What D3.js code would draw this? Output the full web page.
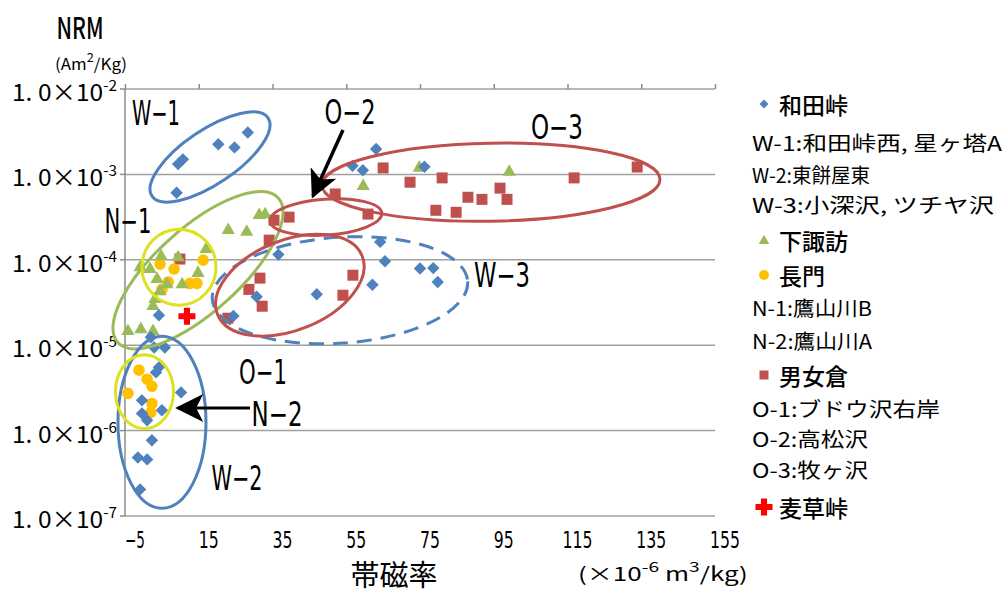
<!DOCTYPE html>
<html>
<head>
<meta charset="utf-8">
<script src="https://cdn.jsdelivr.net/npm/d3@7"></script>
<style>
  body { margin: 0; background: #fff; }
  svg text { font-family: "Noto Sans CJK JP", "Noto Sans", sans-serif; fill: #000; }
  svg text.latin { font-family: "DejaVu Sans", sans-serif; }
</style>
</head>
<body>
<svg id="chart" width="1008" height="595"></svg>
<script>
// 帯磁率 (×10^-6 m3/kg) versus NRM (Am2/kg), one array per source area: [susceptibility, NRM]
const wadaToge = [
  [28.3, 3.1e-3], [20.3, 2.25e-3], [24.7, 2.07e-3], [10.7, 1.5e-3], [9.4, 1.32e-3], [9.0, 6.1e-4],
  [4.2, 2.24e-5],
  [2.0, 1.24e-5], [2.9, 9.4e-6], [5.8, 9.4e-6], [4.2, 5.5e-6], [3.4, 4.8e-6], [10.2, 2.8e-6],
  [-0.4, 2.26e-6], [5.0, 1.73e-6], [-0.4, 1.59e-6], [1.0, 1.32e-6], [2.3, 7.7e-7], [-1.5, 4.85e-7],
  [1.0, 4.6e-7], [-0.9, 2.05e-7],
  [64.2, 1.62e-4], [36.6, 1.15e-4], [65.5, 9.6e-5], [75.0, 7.9e-5], [78.6, 8.0e-5], [79.8, 5.5e-5],
  [62.1, 5.1e-5], [47.0, 3.95e-5], [30.7, 3.7e-5], [24.4, 2.2e-5],
  [63.1, 1.98e-3], [56.7, 1.26e-3], [59.5, 1.12e-3], [76.2, 1.23e-3]
];
const shimosuwa = [
  [31.4, 3.43e-4], [33.0, 3.5e-4], [23.0, 2.29e-4], [28.0, 2.18e-4], [17.0, 1.37e-4],
  [59.6, 7.5e-4], [74.8, 1.23e-3], [99.2, 1.10e-3],
  [4.8, 1.13e-4], [9.4, 1.10e-4], [-0.9, 8.4e-5], [1.8, 8.0e-5], [3.7, 6.1e-5], [6.4, 5.3e-5],
  [10.5, 5.3e-5], [14.8, 7.2e-5], [4.5, 4.4e-5], [3.1, 3.55e-5], [2.6, 2.94e-5],
  [-4.2, 1.5e-5], [-0.7, 1.58e-5], [2.6, 1.5e-5]
];
const nagato = [
  [4.5, 8.9e-5], [8.3, 7.8e-5], [16.2, 9.9e-5], [6.7, 5.5e-5], [12.6, 5.3e-5], [14.5, 5.3e-5], [5.0, 4.5e-5],
  [-1.2, 5.1e-6], [1.0, 4.0e-6], [2.3, 3.3e-6], [-4.2, 2.73e-6], [2.3, 2.08e-6], [2.0, 1.63e-6]
];
const omegura = [
  [9.9, 1.02e-4], [35.4, 2.91e-4], [39.5, 3.16e-4], [60.9, 3.43e-4], [34.1, 1.70e-4],
  [31.6, 6.1e-5], [28.6, 4.5e-5], [32.2, 2.86e-5], [22.9, 2.07e-5], [56.8, 6.6e-5], [54.1, 3.85e-5],
  [52.0, 5.9e-4], [65.0, 1.19e-3], [72.3, 8.1e-4], [81.0, 9.1e-4], [79.3, 3.8e-4], [84.8, 3.6e-4],
  [88.0, 5.4e-4], [91.8, 5.1e-4], [96.7, 6.9e-4], [98.6, 5.1e-4], [116.8, 9.1e-4], [133.9, 1.22e-3]
];
const mugikusa = [[11.8, 2.18e-5]];

const xTicks = [-5, 15, 35, 55, 75, 95, 115, 135, 155];
const yTicks = [1e-2, 1e-3, 1e-4, 1e-5, 1e-6, 1e-7];
const yExponents = ["-2", "-3", "-4", "-5", "-6", "-7"];

// group outlines: centre in data units, radii in px, rotation in degrees
const groups = [
  { name: "W-1", cx: 18.05, cy: 1.6e-3,  rx: 70,  ry: 27, rot: -34, color: "#4F81BD" },
  { name: "N-1", cx: 14.8,  cy: 7.55e-5, rx: 108, ry: 42, rot: -42, color: "#9BBB59" },
  { name: "W-2", cx: 5.03,  cy: 1.25e-6, rx: 44,  ry: 86, rot: 0,   color: "#4F81BD" },
  { name: "W-3", cx: 53.3,  cy: 4.4e-5,  rx: 128, ry: 53, rot: -4,  color: "#4F81BD", dash: "15,9" },
  { name: "O-1", cx: 39.7,  cy: 5.04e-5, rx: 78,  ry: 45, rot: -22, color: "#C0504D" },
  { name: "O-2", cx: 49.5,  cy: 3.16e-4, rx: 56,  ry: 18, rot: -4,  color: "#C0504D" },
  { name: "O-3", cx: 94.25, cy: 8.1e-4,  rx: 169, ry: 39, rot: -1,  color: "#C0504D" },
  { name: "N-1c", cx: 9.64, cy: 8.2e-5,  rx: 37,  ry: 38, rot: 0,   color: "#DCE31C" },
  { name: "N-2c", cx: 0.29, cy: 2.85e-6, rx: 29,  ry: 37, rot: 0,   color: "#DCE31C" }
];

const svg = d3.select("#chart");
const x = d3.scaleLinear().domain([-5, 155]).range([125, 715]);
const y = d3.scaleLog().domain([1e-7, 1e-2]).range([516, 89]);

// squeeze or stretch a text horizontally so it spans [x0, x0 + width]
function fitText(node, x0, width) {
  const b = node.getBBox();
  d3.select(node).attr("transform",
    `translate(${x0},0) scale(${width / b.width},1) translate(${-b.x},0)`);
}

// a text made of plain and raised pieces: [string, raised?]
function richText(parent, pieces, yPos, size, supSize, rise) {
  const t = parent.append("text").attr("x", 0).attr("y", yPos).attr("font-size", size);
  let raised = false;
  pieces.forEach(([s, sup]) => {
    const dy = sup && !raised ? -rise : (!sup && raised ? rise : 0);
    t.append("tspan").attr("dy", dy).attr("font-size", sup ? supSize : size).text(s);
    raised = sup;
  });
  return t;
}

const gridColor = "#a0a0a0";

// horizontal gridlines at each decade
svg.append("g").selectAll("line").data(yTicks).join("line")
  .attr("x1", x(-5)).attr("x2", x(155))
  .attr("y1", d => y(d)).attr("y2", d => y(d))
  .attr("stroke", gridColor).attr("stroke-width", 1.5);

// value axis on the left with outward ticks
svg.append("line").attr("x1", x(-5)).attr("x2", x(-5)).attr("y1", y(1e-2)).attr("y2", y(1e-7))
  .attr("stroke", "#8c8c8c").attr("stroke-width", 1.5);
svg.append("g").selectAll("line").data(yTicks).join("line")
  .attr("x1", x(-5) - 5).attr("x2", x(-5)).attr("y1", d => y(d)).attr("y2", d => y(d))
  .attr("stroke", "#8c8c8c").attr("stroke-width", 1.5);

// tick marks along the top edge
const topAxis = d3.axisTop(x).tickValues(xTicks).tickSize(5).tickFormat("");
const gTop = svg.append("g").attr("transform", `translate(0,${y(1e-2)})`).call(topAxis);
gTop.select(".domain").remove();
gTop.selectAll("line").attr("stroke", "#8c8c8c").attr("stroke-width", 1.5);

// x tick labels
svg.append("g").selectAll("text").data(xTicks).join("text")
  .attr("class", "latin")
  .attr("x", d => x(d) + 10).attr("y", 548)
  .attr("text-anchor", "middle").attr("font-size", 23)
  .attr("textLength", d => String(d).length * 10).attr("lengthAdjust", "spacingAndGlyphs")
  .text(d => String(d).replace("-", "−"));

// y tick labels 1.0×10^n
const yLabG = svg.append("g");
yTicks.forEach((v, i) => {
  const t = richText(yLabG, [["1. 0×10", false], [yExponents[i], true]], y(v) + 12, 24, 15, 10);
  fitText(t.node(), 12, 105);
});

// axis titles
svg.append("text").attr("x", 80).attr("y", 39).attr("text-anchor", "middle")
  .attr("font-size", 30).attr("font-weight", 500)
  .attr("textLength", 47).attr("lengthAdjust", "spacingAndGlyphs").text("NRM");
const unitY = richText(svg, [["(Am", false], ["2", true], ["/Kg)", false]], 70, 16, 12, 8);
fitText(unitY.node(), 55, 72);

svg.append("text").attr("x", 394).attr("y", 586).attr("text-anchor", "middle")
  .attr("font-size", 29).text("帯磁率");
const unitX = richText(svg, [["(×10", false], ["-6", true], [" m", false], ["3", true], ["/kg)", false]], 581, 19, 14, 9);
fitText(unitX.node(), 578, 170);

// marker shapes
const shapes = {
  diamond: s => `M0,${-s}L${s},0L0,${s}L${-s},0Z`,
  square: s => `M${-s},${-s}H${s}V${s}H${-s}Z`,
  triangle: s => `M0,${-s * 1.05}L${s * 1.05},${s * 0.78}L${-s * 1.05},${s * 0.78}Z`,
  circle: s => d3.symbol(d3.symbolCircle, Math.PI * s * s)(),
  cross: s => { const t = s * 0.36; return `M${-t},${-s}H${t}V${-t}H${s}V${t}H${t}V${s}H${-t}V${t}H${-s}V${-t}H${-t}Z`; }
};

function drawSeries(data, shape, size, color) {
  svg.append("g").selectAll("path").data(data).join("path")
    .attr("transform", d => `translate(${x(d[0])},${y(d[1])})`)
    .attr("d", shapes[shape](size))
    .attr("fill", color);
}
drawSeries(omegura, "square", 5.5, "#C0504D");
drawSeries(nagato, "circle", 5.8, "#FFC000");
drawSeries(shimosuwa, "triangle", 6.3, "#9BBB59");
drawSeries(wadaToge, "diamond", 6.2, "#4F81BD");
drawSeries(mugikusa, "cross", 8.5, "#FF0000");

// group outlines
svg.append("g").selectAll("ellipse").data(groups).join("ellipse")
  .attr("transform", d => `translate(${x(d.cx)},${y(d.cy)}) rotate(${d.rot})`)
  .attr("rx", d => d.rx).attr("ry", d => d.ry)
  .attr("fill", "none").attr("stroke", d => d.color).attr("stroke-width", 3)
  .attr("stroke-dasharray", d => d.dash || null);

// arrows
const defs = svg.append("defs");
defs.append("marker").attr("id", "head").attr("viewBox", "0 0 10 10")
  .attr("refX", 9).attr("refY", 5).attr("markerWidth", 36).attr("markerHeight", 28)
  .attr("markerUnits", "userSpaceOnUse").attr("orient", "auto")
  .append("path").attr("d", "M0,0L10,5L0,10L2.5,5Z").attr("fill", "#000");

svg.append("line").attr("x1", 343).attr("y1", 130).attr("x2", 313).attr("y2", 196)
  .attr("stroke", "#000").attr("stroke-width", 3.5).attr("marker-end", "url(#head)");
svg.append("line").attr("x1", 250).attr("y1", 408).attr("x2", 178).attr("y2", 408)
  .attr("stroke", "#000").attr("stroke-width", 3).attr("marker-end", "url(#head)");

// group labels
const labels = [
  { t: "W-1", x: 156, y: 125, w: 48 },
  { t: "O-2", x: 350, y: 124, w: 51 },
  { t: "O-3", x: 557, y: 139, w: 52 },
  { t: "N-1", x: 128, y: 233, w: 47 },
  { t: "W-3", x: 502, y: 287, w: 56 },
  { t: "O-1", x: 263, y: 384, w: 48 },
  { t: "N-2", x: 277, y: 426, w: 51 },
  { t: "W-2", x: 237, y: 490, w: 51 }
];
svg.append("g").selectAll("text").data(labels).join("text")
  .attr("class", "latin")
  .attr("x", d => d.x).attr("y", d => d.y).attr("text-anchor", "middle")
  .attr("font-size", 34)
  .attr("textLength", d => d.w).attr("lengthAdjust", "spacingAndGlyphs")
  .text(d => d.t.replace("-", "−"));

// legend
const legend = [
  { t: "和田峠", m: "diamond", c: "#4F81BD", s: 4.5, y: 104 },
  { t: "W-1:和田峠西, 星ヶ塔A", y: 142, w: 250 },
  { t: "W-2:東餅屋東", y: 174, w: 118 },
  { t: "W-3:小深沢, ツチヤ沢", y: 204, w: 242 },
  { t: "下諏訪", m: "triangle", c: "#9BBB59", s: 5, y: 240 },
  { t: "長門", m: "circle", c: "#FFC000", s: 5, y: 275 },
  { t: "N-1:鷹山川B", y: 307, w: 120 },
  { t: "N-2:鷹山川A", y: 340, w: 120 },
  { t: "男女倉", m: "square", c: "#C0504D", s: 4.5, y: 375 },
  { t: "O-1:ブドウ沢右岸", y: 408, w: 188 },
  { t: "O-2:高松沢", y: 438, w: 116 },
  { t: "O-3:牧ヶ沢", y: 469, w: 116 },
  { t: "麦草峠", m: "cross", c: "#FF0000", s: 8.5, y: 507 }
];
const lg = svg.append("g").selectAll("g").data(legend).join("g");
lg.filter(d => d.m).append("path")
  .attr("transform", d => `translate(764,${d.y})`)
  .attr("d", d => shapes[d.m](d.s)).attr("fill", d => d.c);
lg.append("text")
  .attr("x", d => d.m ? 779 : 752).attr("y", d => d.y)
  .attr("dominant-baseline", "central")
  .attr("font-size", d => d.m ? 23 : 20)
  .attr("font-weight", d => d.m ? 500 : null)
  .attr("textLength", d => d.w || null).attr("lengthAdjust", "spacingAndGlyphs")
  .text(d => d.t);
</script>
</body>
</html>
